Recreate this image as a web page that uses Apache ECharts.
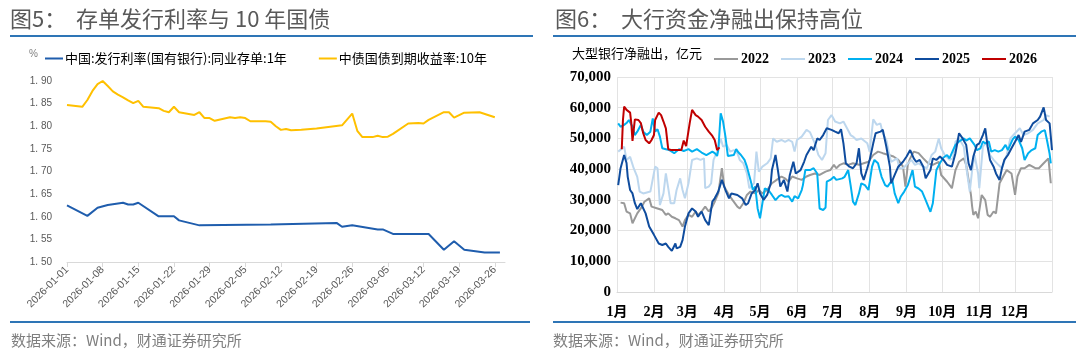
<!DOCTYPE html>
<html>
<head>
<meta charset="utf-8">
<script src="https://cdn.jsdelivr.net/npm/echarts@6/dist/echarts.min.js"></script>
<style>
  html, body { margin: 0; padding: 0; background: #fff; }
  #main { width: 1080px; height: 351px; }
</style>
</head>
<body>
<div id="main"></div>
<script>
// 图5 数据：存单发行利率 与 10年国债
var cdName = '中国:发行利率(国有银行):同业存单:1年';
var gbName = '中债国债到期收益率:10年';

var dateCD = ['2026-01-01','2026-01-05','2026-01-07','2026-01-09','2026-01-12','2026-01-13','2026-01-14','2026-01-15',
  '2026-01-19','2026-01-22','2026-01-23','2026-01-27','2026-02-10','2026-02-23','2026-02-24','2026-02-26',
  '2026-03-03','2026-03-04','2026-03-06','2026-03-13','2026-03-16','2026-03-18','2026-03-20','2026-03-24','2026-03-27'];
var rateCD = [1.625,1.602,1.620,1.626,1.631,1.627,1.627,1.631,
  1.601,1.601,1.592,1.581,1.583,1.586,1.578,1.581,
  1.572,1.572,1.562,1.562,1.527,1.546,1.527,1.521,1.521];

var dateGB = ['2026-01-01','2026-01-04','2026-01-05','2026-01-06','2026-01-07','2026-01-08','2026-01-09','2026-01-10',
  '2026-01-11','2026-01-12','2026-01-13','2026-01-14','2026-01-15','2026-01-16','2026-01-19','2026-01-20',
  '2026-01-21','2026-01-22','2026-01-23','2026-01-26','2026-01-27','2026-01-28','2026-01-29','2026-01-30',
  '2026-02-02','2026-02-03','2026-02-04','2026-02-05','2026-02-06','2026-02-09','2026-02-10','2026-02-11',
  '2026-02-12','2026-02-13','2026-02-14','2026-02-16','2026-02-19','2026-02-24','2026-02-26','2026-02-27',
  '2026-02-28','2026-03-02','2026-03-03','2026-03-04','2026-03-05','2026-03-06','2026-03-09','2026-03-11',
  '2026-03-12','2026-03-13','2026-03-16','2026-03-17','2026-03-18','2026-03-20','2026-03-23','2026-03-26'];
var rateGB = [1.847,1.843,1.858,1.878,1.893,1.900,1.889,1.877,
  1.870,1.864,1.857,1.851,1.856,1.843,1.840,1.834,
  1.831,1.843,1.831,1.825,1.831,1.818,1.818,1.812,
  1.820,1.818,1.820,1.818,1.811,1.811,1.810,1.800,
  1.792,1.794,1.791,1.792,1.795,1.802,1.828,1.790,
  1.776,1.776,1.779,1.776,1.777,1.783,1.806,1.807,
  1.806,1.814,1.831,1.831,1.819,1.830,1.831,1.820];

// 图6 数据：大型银行净融出（亿元），横轴为当年第几天
var yearNames = ['2022', '2023', '2024', '2025', '2026'];
var yearColors = ['#999999', '#BDD7EE', '#00B0F0', '#0F4C9E', '#C00000'];

var day2022 = [3,6,8,11,13,17,20,23,27,29,34,38,41,43,46,49,52,55,57,60,63,66,68,71,74,77,80,82,85,88,90,94,97,101,103,106,109,112,116,119,122,126,130,134,138,141,144,147,151,155,159,162,166,170,175,179,182,184,187,190,194,198,203,207,211,215,219,223,228,232,236,240,242,244,246,249,253,257,261,265,270,272,277,281,284,287,291,293,295,297,298,299,301,303,306,309,311,313,316,318,321,324,327,331,334,336,339,342,346,351,354,358,362,364];
var val2022 = [29100,28900,26200,25600,22400,25600,27200,29400,30500,27800,27200,26700,25100,25600,24500,24000,23400,21300,23400,25100,24500,26200,25100,26200,27800,26200,27800,29400,32100,40300,34300,31600,29900,27800,27200,28900,31600,32700,32100,33200,32100,33200,35400,36500,37600,37000,35900,37600,37000,36500,37600,38100,38600,38100,39200,39700,41400,40300,41400,41900,41400,41900,41400,41900,42400,44600,45700,45200,44600,44100,43000,40800,34300,41400,43500,45700,45200,43500,41900,41400,42400,38100,35900,33800,39700,42400,43500,41400,36500,31600,27800,25100,26200,24000,31600,29900,25100,24500,26200,25600,35400,37600,39700,38600,31600,37600,40300,40300,41400,40300,40300,41900,43500,35400];

var day2023 = [1,6,8,11,14,17,19,22,28,32,34,36,39,41,43,45,48,50,53,55,57,60,63,67,70,73,74,77,79,81,84,87,89,92,95,98,101,103,106,109,111,115,117,119,122,126,129,131,134,138,141,144,147,149,151,155,159,162,166,169,172,175,177,180,183,187,190,193,196,198,201,205,210,212,214,215,218,221,223,226,228,230,235,237,240,243,247,250,253,257,260,264,267,270,272,275,279,282,284,287,291,293,296,298,300,303,304,307,310,313,316,320,323,327,330,334,338,341,345,349,353,358,360,363];
var val2023 = [45700,47300,43000,44000,40300,37500,32700,32100,32700,40800,40300,28300,32100,38600,33800,28900,28900,33200,37000,33200,30500,35400,43000,43500,43000,43500,33800,34300,35400,43000,45700,50000,47300,47900,45700,46200,45200,43000,41900,38600,33800,35400,45700,39200,40800,41900,43500,50000,48900,49500,48900,49500,48900,45700,49500,50600,52800,52000,48400,44600,43000,45200,56000,57600,55500,54900,55500,53300,51100,50600,49500,50000,48400,45700,52800,56200,54400,54900,51700,49500,45700,42400,43500,40300,40300,41400,43000,41400,41900,40800,40300,44600,45700,50000,46800,44600,43000,43500,48900,50000,47300,40800,32700,39700,44600,38600,33800,47300,48900,44600,43000,41400,40300,44600,50000,51700,53300,51100,51700,52800,54900,56000,57600,57100];

var day2024 = [1,3,6,8,10,13,15,17,20,22,25,28,30,32,34,36,38,41,44,48,52,56,60,63,67,71,75,80,82,84,85,87,89,91,93,98,100,102,104,107,109,112,114,116,118,120,122,124,127,130,133,136,138,141,144,147,149,152,155,156,158,162,165,168,170,173,175,176,179,182,184,189,191,194,196,198,200,203,205,208,211,214,216,219,222,225,227,231,233,236,238,241,244,248,250,253,256,259,263,265,268,271,274,277,279,282,284,287,291,293,296,300,302,305,307,309,312,314,317,320,323,326,328,332,334,337,340,342,345,348,351,353,356,359,361,363,364];
var val2024 = [54900,53800,54400,55000,56000,53800,51100,52200,54400,52200,51100,52200,56500,52200,53000,50600,46800,46500,46200,45200,46500,45900,46500,45700,46500,45400,44600,45700,45200,44300,46200,58200,55500,50600,44300,44600,46500,45400,44600,43000,40800,36500,33200,34300,27200,24000,28900,33700,33200,31600,29900,31200,31600,31000,31200,29400,31200,30500,33200,34800,39700,39700,40300,38600,27200,26700,27500,35900,36500,37500,36500,37000,37500,39700,34800,29400,28300,32100,35400,34800,33200,40800,43000,41900,37500,34800,34300,36500,32100,28900,31000,32700,34800,39700,34300,33700,32700,29900,26100,28900,39700,42000,43800,44600,43500,46200,47900,49000,50000,49300,50000,47900,46200,46800,49000,48400,49000,45700,46200,45700,46200,47900,46200,49700,50600,49500,46800,43000,45200,46200,46800,51100,52200,52700,49000,45000,41900];

var day2025 = [1,3,6,8,9,11,13,15,17,20,21,24,27,31,35,38,41,43,46,49,50,53,55,57,60,63,66,68,71,74,77,80,82,85,88,91,94,96,101,105,108,110,113,116,118,120,123,126,129,130,133,135,137,140,143,145,148,150,154,157,159,163,165,168,170,173,176,180,183,186,188,190,192,195,198,201,203,205,207,210,212,215,217,221,223,226,229,230,233,236,240,243,246,249,251,254,257,259,263,265,268,271,274,277,281,284,287,290,293,295,297,299,302,304,307,309,311,313,316,318,321,323,325,328,331,334,337,339,342,346,349,353,355,358,360,363,365];
var val2025 = [34800,40300,44600,42000,37500,33200,32100,28900,27000,28900,29500,25600,21300,18600,15800,15300,15800,14700,13400,15800,14200,14700,16900,21300,25600,27200,26200,24500,26200,23400,21800,29400,30500,32700,36500,33200,30500,32100,31600,30500,28300,28900,32100,33200,35400,32100,30000,31600,35400,39700,44600,39700,34300,36500,32700,38100,42400,38600,39700,42400,44600,47300,46200,50000,49500,51100,53300,52800,52200,51700,53000,48400,41900,40800,40300,41900,46800,38600,36500,40300,43000,48400,51700,52200,52800,47300,40800,35400,38100,40800,42400,44100,46200,43500,42400,43000,40800,37000,39700,43500,43000,44100,43000,41400,40800,45200,51700,50000,47900,41900,39700,44100,47900,48400,51100,53300,47300,43000,40800,38600,36500,40300,43000,44600,46800,48900,51100,48900,52200,52800,54900,56000,57100,60100,56000,54900,46200];

var day2026 = [4,5,6,8,11,12,13,15,18,20,22,24,27,29,31,32,35,37,39,41,43,46,54,56,58,61,63,66,68,71,74,77,80,82,84,86];
var val2026 = [46500,56000,60400,59300,58400,55000,49200,56200,56000,55000,51700,49500,48400,49500,51100,56000,58400,57600,55500,53300,46500,46200,46200,49300,47500,55000,59300,57600,57100,56000,53800,52200,50800,49500,46200,47100];

var yearDays = [day2022, day2023, day2024, day2025, day2026];
var yearVals = [val2022, val2023, val2024, val2025, val2026];

var DAY = 86400000;
var base2026 = Date.UTC(2026, 0, 1);
var baseYear = new Date(2001, 0, 1).getTime(); // 统一映射到一个平年

function toDayIndex(s) {
    return (Date.parse(s) - base2026) / DAY;
}
function pairs(dates, vals) {
    var out = [];
    for (var i = 0; i < dates.length; i++) {
        out.push([toDayIndex(dates[i]), vals[i]]);
    }
    return out;
}
function yearPairs(days, vals) {
    var out = [];
    for (var i = 0; i < days.length; i++) {
        out.push([baseYear + days[i] * DAY, vals[i]]);
    }
    return out;
}

var chart = echarts.init(document.getElementById('main'), null, {renderer: 'canvas'});

var serifFont = "'Liberation Serif', 'Times New Roman', 'Noto Sans CJK SC', serif";
var cjkFont = "'Noto Sans CJK SC', sans-serif";
var ruleColor = '#2E75B6';

var series = [
    {
        name: cdName, type: 'line', xAxisIndex: 0, yAxisIndex: 0,
        showSymbol: false, lineStyle: {width: 2, color: '#1F5DAD'}, itemStyle: {color: '#1F5DAD'},
        data: pairs(dateCD, rateCD)
    },
    {
        name: gbName, type: 'line', xAxisIndex: 0, yAxisIndex: 0,
        showSymbol: false, lineStyle: {width: 2, color: '#FFC000'}, itemStyle: {color: '#FFC000'},
        data: pairs(dateGB, rateGB)
    }
];
for (var k = 0; k < yearNames.length; k++) {
    series.push({
        name: yearNames[k], type: 'line', xAxisIndex: 1, yAxisIndex: 1,
        showSymbol: false,
        lineStyle: {width: 2, color: yearColors[k]},
        itemStyle: {color: yearColors[k]},
        data: yearPairs(yearDays[k], yearVals[k])
    });
}

var option = {
    animation: false,
    backgroundColor: '#fff',
    grid: [
        {left: 67, right: 575, top: 81, bottom: 89},
        {left: 617, right: 28, top: 77, bottom: 59}
    ],
    legend: [
        {
            data: [cdName, gbName],
            left: 40, top: 47,
            icon: 'rect', itemWidth: 18, itemHeight: 2, itemGap: 32,
            textStyle: {fontFamily: cjkFont, fontSize: 13, color: '#000', padding: [0, 0, 0, -3]}
        },
        {
            data: yearNames,
            left: 709, top: 47,
            icon: 'rect', itemWidth: 24, itemHeight: 2, itemGap: 12,
            textStyle: {fontFamily: serifFont, fontSize: 14, fontWeight: 'bold', color: '#000', padding: [0, 0, 0, -2]}
        }
    ],
    xAxis: [
        {
            type: 'value', gridIndex: 0, min: 0, max: 86, interval: 7,
            axisLine: {lineStyle: {color: '#D9D9D9'}},
            axisTick: {show: true, lineStyle: {color: '#D9D9D9'}},
            splitLine: {show: false},
            axisLabel: {
                rotate: 45, fontSize: 10.5, color: '#595959', margin: 6,
                fontFamily: "'Liberation Sans', Arial, sans-serif",
                showMaxLabel: false,
                formatter: function (v) {
                    if (v % 7 !== 0) return '';
                    return new Date(base2026 + v * DAY).toISOString().slice(0, 10);
                }
            }
        },
        {
            type: 'time', gridIndex: 1,
            min: baseYear, max: new Date(2002, 0, 1).getTime(),
            minInterval: 28 * DAY, maxInterval: 31 * DAY, splitNumber: 12,
            axisLine: {lineStyle: {color: '#D9D9D9'}},
            axisTick: {show: false},
            splitLine: {show: true, lineStyle: {color: '#E3E3E3'}},
            axisLabel: {
                fontFamily: serifFont, fontSize: 14, fontWeight: 'bold', color: '#000', margin: 13,
                formatter: function (v) {
                    var d = new Date(v);
                    if (d.getFullYear() > 2001) return '';
                    return (d.getMonth() + 1) + '月';
                }
            }
        }
    ],
    yAxis: [
        {
            type: 'value', gridIndex: 0, min: 1.5, max: 1.9, interval: 0.05,
            axisLine: {show: false}, axisTick: {show: false},
            splitLine: {show: false},
            axisLabel: {
                fontSize: 10, color: '#595959', margin: 15,
                fontFamily: "'Liberation Sans', Arial, sans-serif",
                formatter: function (v) { return v.toFixed(2).replace('.', '. '); }
            }
        },
        {
            type: 'value', gridIndex: 1, min: 0, max: 70000, interval: 10000,
            axisLine: {show: false}, axisTick: {show: false},
            splitLine: {show: true, lineStyle: {color: '#E3E3E3'}},
            axisLabel: {
                fontFamily: serifFont, fontSize: 15, fontWeight: 'bold', color: '#000', margin: 6,
                formatter: function (v) { return v.toString().replace(/\B(?=(\d{3})+(?!\d))/g, ','); }
            }
        }
    ],
    graphic: [
        // 标题
        {type: 'text', left: 10, top: 8, style: {text: '图5：  存单发行利率与 10 年国债', font: '22px ' + cjkFont, fill: '#595959'}},
        {type: 'text', left: 555, top: 8, style: {text: '图6：  大行资金净融出保持高位', font: '22px ' + cjkFont, fill: '#595959'}},
        // 分隔线
        {type: 'line', shape: {x1: 10, y1: 36, x2: 533, y2: 36}, style: {stroke: ruleColor, lineWidth: 2}},
        {type: 'line', shape: {x1: 553, y1: 36, x2: 1076, y2: 36}, style: {stroke: ruleColor, lineWidth: 2}},
        {type: 'line', shape: {x1: 10, y1: 322, x2: 530, y2: 322}, style: {stroke: ruleColor, lineWidth: 2}},
        {type: 'line', shape: {x1: 553, y1: 322, x2: 1076, y2: 322}, style: {stroke: ruleColor, lineWidth: 2}},
        // 单位
        {type: 'text', left: 29, top: 49, style: {text: '%', font: '10px ' + "'Liberation Sans', sans-serif", fill: '#808080'}},
        {type: 'text', left: 572, top: 47, style: {text: '大型银行净融出，亿元', font: '13px ' + cjkFont, fill: '#000'}},
        // 数据来源
        {type: 'text', left: 11, top: 333, style: {text: '数据来源：Wind，财通证券研究所', font: '15px ' + cjkFont, fill: '#7F7F7F'}},
        {type: 'text', left: 553, top: 333, style: {text: '数据来源：Wind，财通证券研究所', font: '15px ' + cjkFont, fill: '#7F7F7F'}}
    ],
    series: series
};

chart.setOption(option);
</script>
</body>
</html>
